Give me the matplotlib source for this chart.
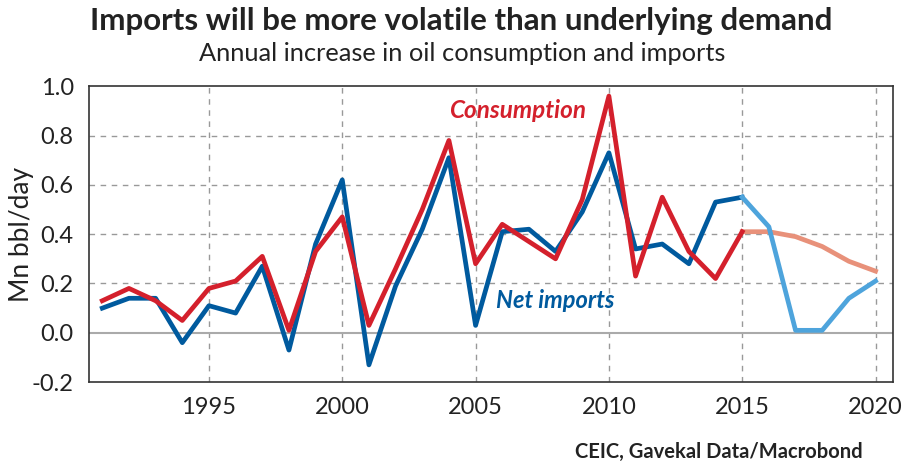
import matplotlib
matplotlib.use("Agg")
import matplotlib.pyplot as plt

# Font setup - closest to the Myriad look of the original
plt.rcParams['font.family'] = ['Lato', 'DejaVu Sans']

# Historical data (Mn bbl/day, annual increase)
years_hist = list(range(1991, 2016))
imports_hist = [0.10, 0.14, 0.14, -0.04, 0.11, 0.08, 0.27, -0.07, 0.36, 0.62,
                -0.13, 0.19, 0.42, 0.71, 0.03, 0.41, 0.42, 0.33, 0.49, 0.73,
                0.34, 0.36, 0.28, 0.53, 0.55]
cons_hist = [0.13, 0.18, 0.13, 0.05, 0.18, 0.21, 0.31, 0.01, 0.33, 0.47,
             0.03, 0.26, 0.50, 0.78, 0.28, 0.44, 0.37, 0.30, 0.54, 0.96,
             0.23, 0.55, 0.33, 0.22, 0.41]

# Forecast data
years_fc = list(range(2015, 2021))
imports_fc = [0.55, 0.43, 0.01, 0.01, 0.14, 0.21]
cons_fc = [0.41, 0.41, 0.39, 0.35, 0.29, 0.25]

x_ticks = [1995, 2000, 2005, 2010, 2015, 2020]
y_ticks = [-0.2, 0.0, 0.2, 0.4, 0.6, 0.8, 1.0]

fig = plt.figure(figsize=(9.05, 4.66), dpi=100)
ax = fig.add_axes([0.0983, 0.180, 0.888, 0.635])

# Grid lines
for xt in x_ticks:
    ax.axvline(xt, color='#999999', linestyle=(0, (4, 4)), linewidth=1, zorder=1)
for yt in [0.2, 0.4, 0.6, 0.8]:
    ax.axhline(yt, color='#999999', linestyle=(0, (4, 4)), linewidth=1, zorder=1)
ax.axhline(0, color='#aaaaaa', linewidth=1.5, zorder=1)

# Plot the series
ax.plot(years_hist, imports_hist, color='#005a9e', linewidth=3.4, zorder=3)
ax.plot(years_hist, cons_hist, color='#d4202c', linewidth=3.4, zorder=4)
ax.plot(years_fc, cons_fc, color='#e8917a', linewidth=3.4, zorder=3)
ax.plot(years_fc, imports_fc, color='#4ea4dc', linewidth=3.4, zorder=3)

# Series labels
ax.text(2006.56, 0.90, 'Consumption', color='#d4202c', fontsize=17.5,
        fontweight='bold', fontstyle='italic', ha='center', va='center')
ax.text(2008.0, 0.13, 'Net imports', color='#005a9e', fontsize=17,
        fontweight='bold', fontstyle='italic', ha='center', va='center')

# Axes limits and ticks
ax.set_xlim(1990.5, 2020.64)
ax.set_ylim(-0.2, 1.0)
ax.set_xticks(x_ticks)
ax.set_yticks(y_ticks)
ax.set_yticklabels(['%.1f' % v for v in y_ticks])
ax.tick_params(length=0, labelsize=17, pad=11, colors='#222222')
ax.set_ylabel('Mn bbl/day', fontsize=19, color='#222222')
ax.yaxis.set_label_coords(-0.069, 0.5)

for s in ax.spines.values():
    s.set_color('#333333')
    s.set_linewidth(1.2)

# Titles and source
fig.text(0.51, 0.955, 'Imports will be more volatile than underlying demand',
         fontsize=22.5, fontweight='bold', ha='center', va='center', color='#222222')
fig.text(0.511, 0.885, 'Annual increase in oil consumption and imports',
         fontsize=18.3, ha='center', va='center', color='#222222')
fig.text(0.953, 0.030, 'CEIC, Gavekal Data/Macrobond',
         fontsize=14.5, fontweight='bold', ha='right', va='center', color='#222222')

fig.savefig('out.png', dpi=100)
